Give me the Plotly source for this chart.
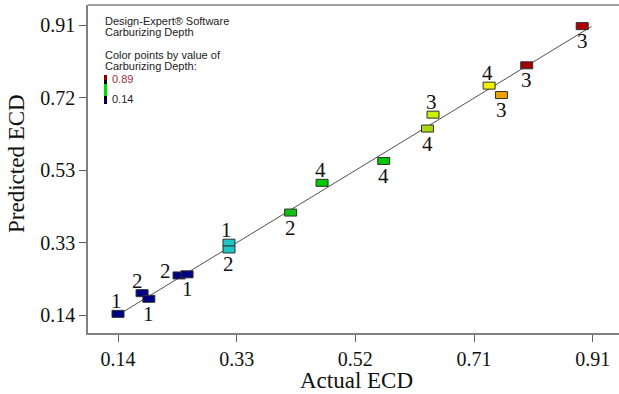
import plotly.graph_objects as go

# ---------------- data ----------------
actual = [0.140, 0.179, 0.190, 0.239, 0.252, 0.320, 0.320, 0.420, 0.471,
          0.571, 0.642, 0.651, 0.742, 0.762, 0.803, 0.893]
predicted = [0.143, 0.198, 0.183, 0.245, 0.248, 0.332, 0.314, 0.412, 0.491,
             0.549, 0.635, 0.672, 0.749, 0.724, 0.803, 0.907]
run_labels = ["1", "2", "1", "2", "1", "1", "2", "2", "4",
              "4", "4", "3", "4", "3", "3", "3"]
label_place = ["above", "aboveleft", "below", "left", "below", "above", "below", "below", "above",
               "below", "below", "above", "above", "below", "below", "below"]
point_colors = ["#000080", "#000080", "#000080", "#000080", "#000080", "#1FC6C6", "#1FC6C6",
                "#10C010", "#00C800", "#00C800", "#A8D810", "#C8F000", "#F0F000",
                "#F0A000", "#A00000", "#B00000"]
fit_x = [0.14, 0.908]
fit_y = [0.14, 0.906]

tick_vals = [0.14, 0.3325, 0.525, 0.7175, 0.91]
x_tick_text = ["0.14", "0.33", "0.52", "0.71", "0.91"]
y_tick_text = ["0.14", "0.33", "0.53", "0.72", "0.91"]

# ---------------- figure ----------------
W, H = 619, 394
ML, MR, MT, MB = 88, 0, 5, 61

fig = go.Figure()
fig.add_trace(go.Scatter(x=fit_x, y=fit_y, mode="lines",
                         line=dict(color="#505050", width=1), hoverinfo="skip"))

shapes = []
for xv, yv, c in zip(actual, predicted, point_colors):
    shapes.append(dict(type="rect", xref="x", yref="y",
                       xsizemode="pixel", ysizemode="pixel",
                       xanchor=xv, yanchor=yv, x0=-6, x1=6, y0=-3.5, y1=3.5,
                       fillcolor=c, line=dict(color="#303030", width=1)))

# top frame line
shapes.append(dict(type="line", xref="paper", yref="paper", x0=0, x1=1, y0=1, y1=1,
                   line=dict(color="#808080", width=1.5)))

# legend colour bar (pixel sized, anchored to plot top-left)
bar_parts = [(-70, -75, "#8B0000"), (-75, -79, "#000000"), (-79, -91, "#00DD00"),
             (-91, -95, "#000000"), (-95, -98, "#000090"), (-98, -99, "#000000")]
for y0, y1, c in bar_parts:
    shapes.append(dict(type="rect", xref="paper", yref="paper",
                       xsizemode="pixel", ysizemode="pixel", xanchor=0, yanchor=1,
                       x0=16, x1=19, y0=y0, y1=y1, fillcolor=c, line=dict(width=0)))

shift = {"above": (-2, 13), "aboveleft": (-5, 12), "below": (0, -15), "left": (-14, 4)}
annotations = []
for xv, yv, t, p in zip(actual, predicted, run_labels, label_place):
    dx, dy = shift[p]
    annotations.append(dict(x=xv, y=yv, xref="x", yref="y", text=t, showarrow=False,
                            xshift=dx, yshift=dy, xanchor="center", yanchor="middle",
                            font=dict(family="Liberation Serif", size=21, color="#111111")))

legend_lines = [("Design-Expert® Software", -15.5, "#222222"),
                ("Carburizing Depth", -27, "#222222"),
                ("Color points by value of", -50, "#222222"),
                ("Carburizing Depth:", -61, "#222222"),
                ("0.89", -74, "#A0303A"),
                ("0.14", -94, "#222222")]
for t, dy, c in legend_lines:
    xs = 22 if t in ("0.89", "0.14") else 15
    annotations.append(dict(x=0, y=1, xref="paper", yref="paper", text=t, showarrow=False,
                            xanchor="left", yanchor="middle", xshift=xs, yshift=dy,
                            font=dict(family="Liberation Sans", size=11, color=c)))

# axis titles
annotations.append(dict(x=0.525, y=0, xref="x", yref="paper", text="Actual ECD", showarrow=False,
                        xanchor="center", yanchor="middle", xshift=1.5, yshift=-47,
                        font=dict(family="Liberation Serif", size=23, color="#111111")))
annotations.append(dict(x=0, y=0.541, xref="paper", yref="y", text="Predicted ECD", showarrow=False,
                        xanchor="center", yanchor="middle", xshift=-71, textangle=-90,
                        font=dict(family="Liberation Serif", size=23, color="#111111")))

px_x = (0.91 - 0.14) / 474.4
px_y = (0.91 - 0.14) / 290.0
x_range = [0.14 - 30 * px_x, 0.91 + 26.3 * px_x]
y_range = [0.14 - 18 * px_y, 0.91 + 20 * px_y]

fig.update_layout(
    width=W, height=H,
    margin=dict(l=ML, r=MR, t=MT, b=MB, pad=0),
    paper_bgcolor="white", plot_bgcolor="white",
    showlegend=False,
    shapes=shapes, annotations=annotations,
    xaxis=dict(range=x_range, tickvals=tick_vals, ticktext=x_tick_text,
               showgrid=False, zeroline=False, showline=True, linecolor="#808080", linewidth=1.5,
               ticks="outside", ticklen=7, tickcolor="#606060", tickwidth=1,
               tickfont=dict(family="Liberation Serif", size=20, color="#111111")),
    yaxis=dict(range=y_range, tickvals=tick_vals, ticktext=y_tick_text,
               showgrid=False, zeroline=False, showline=True, linecolor="#808080", linewidth=1.5,
               ticks="outside", ticklen=7, tickcolor="#606060", tickwidth=1,
               tickfont=dict(family="Liberation Serif", size=20, color="#111111")),
)

fig.write_html("out.html")
